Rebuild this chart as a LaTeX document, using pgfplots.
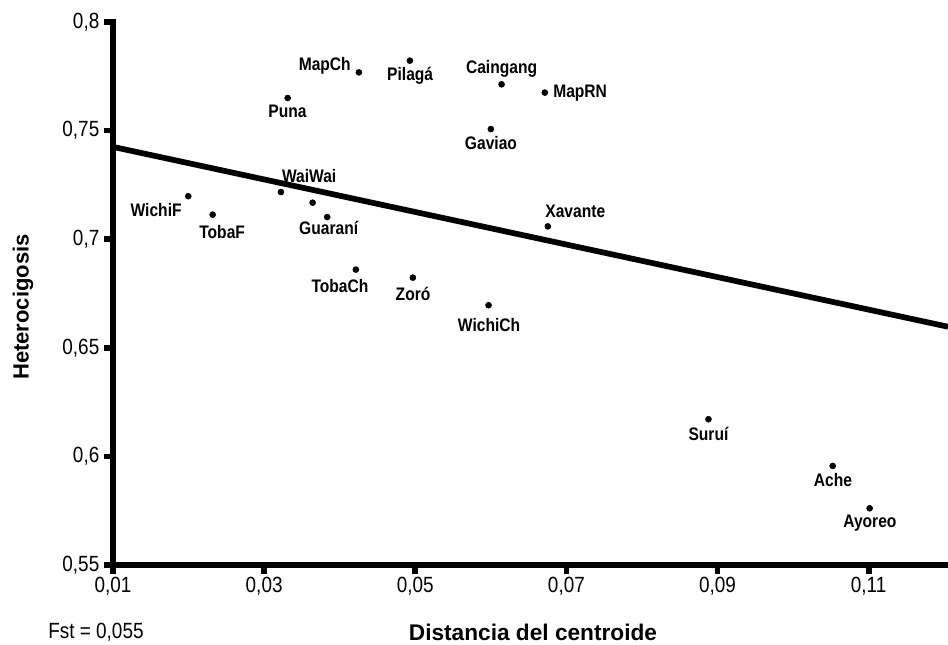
\documentclass[border=0pt]{standalone}
\usepackage{fontspec}
\setmainfont{Liberation Sans}
\newfontfamily\narrowfont[FakeStretch=0.86]{Liberation Sans}
\usepackage{pgfplots}
\pgfplotsset{compat=1.18}

% populations: distance to centroid vs heterozygosity
% dx, dy = label offset (pt) from the point, label anchored at its baseline
\pgfplotstableread{
x       y       label    dx     dy
0.04254 0.7768  MapCh    -25.6  1.7
0.04929 0.7822  Pilagá   0.2    -15.0
0.06142 0.7713  Caingang 0.0    8.3
0.06714 0.7675  MapRN    26.5   -4.0
0.03311 0.7650  Puna     -0.1   -14.8
0.06000 0.7507  Gaviao   0.1    -15.0
0.03222 0.7217  WaiWai   21.2   7.3
0.01996 0.7198  WichiF   -24.1  -15.3
0.02319 0.7113  TobaF    7.1    -18.2
0.03835 0.7102  Guaraní  1.1    -13.0
0.06754 0.7059  Xavante  20.6   7.0
0.04214 0.6860  TobaCh   -11.9  -17.0
0.04968 0.6823  Zoró     0.15   -17.5
0.05970 0.6696  WichiCh  0.4    -19.8
0.08880 0.6171  Suruí    0.0    -16.1
0.10524 0.5956  Ache     0.15   -15.5
0.11013 0.5761  Ayoreo   0.2    -14.3
}\poblaciones

\begin{document}
\begin{tikzpicture}
\path[use as bounding box] (-84.75pt,-60pt) rectangle (626.25pt,423.75pt);
\begin{axis}[
    at={(0pt,0pt)}, anchor=south west,
    scale only axis,
    width=626.25pt, height=407.25pt,
    xmin=0.01, xmax=0.1205,
    ymin=0.55, ymax=0.8,
    axis x line*=bottom, axis y line*=left,
    axis line style={line width=4.3pt, line cap=rect, black},
    tick align=outside,
    major tick length=6.75pt,
    tick style={line width=4.3pt, black},
    xtick={0.01,0.03,0.05,0.07,0.09,0.11},
    xticklabels={{0,01},{0,03},{0,05},{0,07},{0,09},{0,11}},
    ytick={0.55,0.6,0.65,0.7,0.75,0.8},
    yticklabels={{0,55},{0,6},{0,65},{0,7},{0,75},{0,8}},
    tick label style={font=\narrowfont\fontsize{16.5}{19}\selectfont},
    xticklabel style={yshift=1pt},
    clip=false,
]

% regression line
\addplot[black, line width=4.3pt, line cap=butt] coordinates {(0.01,0.7425) (0.1205,0.6597)};

% labelled populations
\addplot[only marks, mark=*, mark size=2.25pt, black,
    point meta=explicit symbolic,
    visualization depends on={\thisrow{dx} \as \dx},
    visualization depends on={\thisrow{dy} \as \dy},
    nodes near coords,
    nodes near coords style={anchor=base, xshift=\dx pt, yshift=\dy pt,
        inner sep=0pt, font=\narrowfont\bfseries\fontsize{13.6}{16}\selectfont}]
    table[x=x, y=y, meta=label] {\poblaciones};

% point without label
\addplot[only marks, mark=*, mark size=2.25pt, black] coordinates {(0.03642,0.7168)};

\end{axis}

\node[anchor=west, font=\narrowfont\fontsize{16.5}{19}\selectfont] at (-52pt,-50.25pt) {Fst = 0,055};
\node[font=\bfseries\fontsize{17}{20}\selectfont] at (315pt,-50.25pt) {Distancia del centroide};
\node[rotate=90, font=\bfseries\fontsize{16.5}{19}\selectfont] at (-67.5pt,193.5pt) {Heterocigosis};
\end{tikzpicture}
\end{document}
